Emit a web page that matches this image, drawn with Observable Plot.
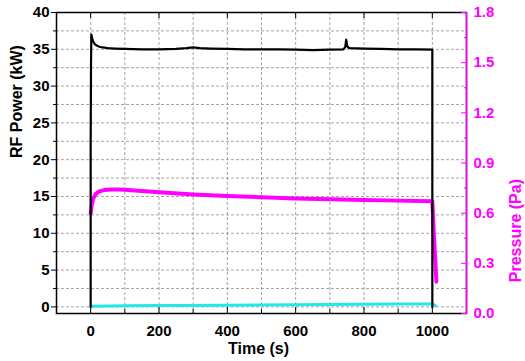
<!DOCTYPE html>
<html><head><meta charset="utf-8">
<script src="https://cdn.jsdelivr.net/npm/d3@7"></script>
<script src="https://cdn.jsdelivr.net/npm/@observablehq/plot@0.6"></script>
<style>body{margin:0;background:#fff}</style>
</head><body><div id="chart"></div>
<script>
// RF power (kW) vs time (s)
const powerTime = [0, 0, 1, 2, 3, 5, 8, 12, 18, 25, 35, 50, 70, 100, 150, 200, 250, 280, 300, 320, 350, 400, 450, 500, 550, 600, 650, 700, 740, 745, 748, 751, 755, 760, 800, 850, 900, 950, 1000, 1000];
const powerKW   = [0, 22, 33, 37.0, 36.8, 36.4, 36.0, 35.7, 35.5, 35.35, 35.25, 35.15, 35.1, 35.05, 35.0, 35.0, 35.05, 35.15, 35.25, 35.15, 35.1, 35.05, 35.0, 35.0, 35.0, 34.95, 34.9, 34.95, 35.0, 35.3, 36.3, 35.4, 35.2, 35.15, 35.1, 35.05, 35.0, 35.0, 34.95, 0];
// Pressure (Pa) vs time (s)
const pressureTime = [0, 3, 8, 15, 25, 40, 60, 80, 100, 150, 200, 300, 400, 500, 600, 700, 800, 900, 1000, 1005, 1012];
const pressurePa   = [0.60, 0.65, 0.69, 0.715, 0.73, 0.738, 0.742, 0.742, 0.74, 0.733, 0.725, 0.712, 0.702, 0.695, 0.688, 0.683, 0.678, 0.675, 0.672, 0.45, 0.19];
// Reflected power (kW) vs time (s)
const reflTime = [0, 50, 100, 200, 300, 400, 500, 600, 700, 800, 900, 1000, 1010];
const reflKW   = [0.1, 0.12, 0.15, 0.18, 0.2, 0.23, 0.26, 0.3, 0.33, 0.36, 0.38, 0.4, 0.15];

const xMajorTicks = [0, 200, 400, 600, 800, 1000];
const xMinorTicks = [100, 300, 500, 700, 900];
const xGridTicks = [0, 100, 200, 300, 400, 500, 600, 700, 800, 900, 1000];
const yMajorTicks = [0, 5, 10, 15, 20, 25, 30, 35, 40];
const yMinorTicks = [2.5, 7.5, 12.5, 17.5, 22.5, 27.5, 32.5, 37.5];
const yGridTicks = [0, 2.5, 5, 7.5, 10, 12.5, 15, 17.5, 20, 22.5, 25, 27.5, 30, 32.5, 35, 37.5];
const paMajorTicks = [0, 0.3, 0.6, 0.9, 1.2, 1.5, 1.8];
const paMinorTicks = [0.15, 0.45, 0.75, 1.05, 1.35, 1.65];

const xDomain = [-100, 1100];
const yDomain = [-0.9, 40];
const paDomain = [0, 1.8];
const paToKW = p => yDomain[0] + (p - paDomain[0]) * (yDomain[1] - yDomain[0]) / (paDomain[1] - paDomain[0]);
const kwToPa = k => paDomain[0] + (k - yDomain[0]) * (paDomain[1] - paDomain[0]) / (yDomain[1] - yDomain[0]);

const power = powerTime.map((t, i) => ({t, v: powerKW[i]}));
const pressure = pressureTime.map((t, i) => ({t, v: paToKW(pressurePa[i])}));
const refl = reflTime.map((t, i) => ({t, v: reflKW[i]}));

const MAG = "#ff00ff";
const gridStyle = {stroke: "#9a9a9a", strokeDasharray: "3,2", strokeWidth: 0.9};

const chart = Plot.plot({
  width: 525, height: 361,
  marginLeft: 56, marginRight: 59, marginTop: 12, marginBottom: 48,
  x: {domain: xDomain, axis: null},
  y: {domain: yDomain, axis: null},
  style: {fontFamily: "'Liberation Sans', Arial, sans-serif", fontSize: "15px", fontWeight: "bold", background: "#fff", overflow: "visible"},
  marks: [
    Plot.ruleX(xGridTicks, gridStyle),
    Plot.ruleY(yGridTicks, gridStyle),
    Plot.line(refl, {x: "t", y: "v", stroke: "#22e8e8", strokeWidth: 3}),
    Plot.line(pressure, {x: "t", y: "v", stroke: MAG, strokeWidth: 4}),
    Plot.line(power, {x: "t", y: "v", stroke: "#000", strokeWidth: 2.2}),
    Plot.frame({stroke: "#000", strokeWidth: 1.5}),
    Plot.ruleX([xDomain[1]], {stroke: MAG, strokeWidth: 1.5}),
    // bottom axis
    Plot.axisX(xMajorTicks, {anchor: "bottom", label: null, tickSize: -6, tickFormat: () => ""}),
    Plot.axisX(xMinorTicks, {anchor: "bottom", label: null, tickSize: -4, tickFormat: () => ""}),
    Plot.axisX(xMajorTicks, {anchor: "bottom", label: null, tickSize: 0, tickPadding: 12, fontSize: 15, tickFormat: d => String(d)}),
    // top axis ticks
    Plot.axisX(xMajorTicks, {anchor: "top", label: null, tickSize: -5, tickFormat: () => ""}),
    // left axis
    Plot.axisY(yMajorTicks, {anchor: "left", label: null, tickSize: 5, tickPadding: 2, fontSize: 15, tickFormat: d => String(d)}),
    Plot.axisY(yMinorTicks, {anchor: "left", label: null, tickSize: 3, tickFormat: () => ""}),
    // right axis (pressure)
    Plot.axisY(paMajorTicks.map(paToKW), {anchor: "right", label: null, tickSize: -6, tickFormat: () => "", color: MAG}),
    Plot.axisY(paMinorTicks.map(paToKW), {anchor: "right", label: null, tickSize: -3, tickFormat: () => "", color: MAG}),
    Plot.axisY(paMajorTicks.map(paToKW), {anchor: "right", label: null, tickSize: 0, tickPadding: 7, fontSize: 15, color: MAG, tickFormat: d => kwToPa(d).toFixed(1)}),
    // titles
    Plot.text(["RF Power (kW)"], {text: d => d, frameAnchor: "left", dx: -40, dy: -5, rotate: -90, fontSize: 16, fontWeight: "bold", fill: "#000"}),
    Plot.text(["Pressure (Pa)"], {text: d => d, frameAnchor: "right", dx: 49, dy: 16, rotate: -90, fontSize: 16, fontWeight: "bold", fill: MAG}),
    Plot.text(["Time (s)"], {text: d => d, frameAnchor: "bottom", dx: -3, dy: 40, fontSize: 16, fontWeight: "bold", fill: "#000"})
  ]
});
document.getElementById("chart").appendChild(chart);
</script>
</body></html>
